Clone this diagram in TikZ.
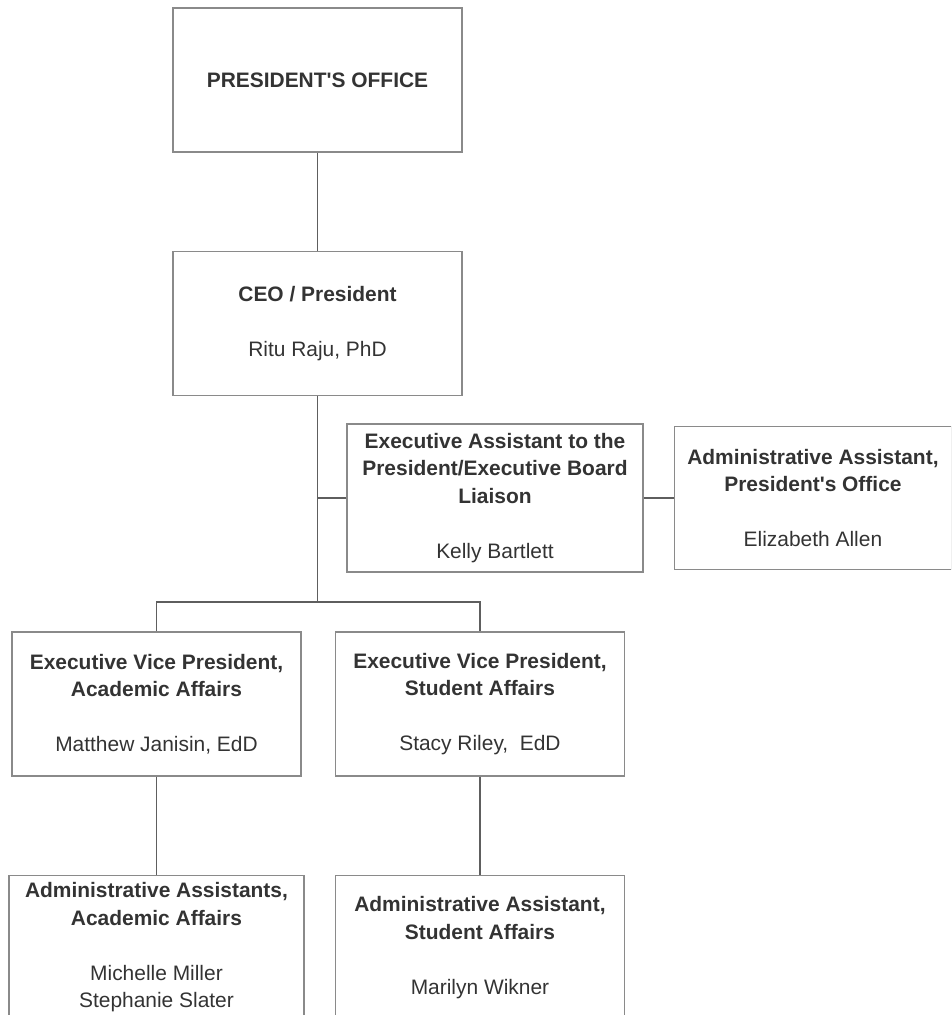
\documentclass[tikz,border=0pt]{standalone}
\usepackage{fontspec}
\setmainfont{Liberation Sans}
\usetikzlibrary{positioning}
\definecolor{txtgray}{HTML}{333333}
\definecolor{boxgray}{HTML}{8A8A8A}
\definecolor{linkgray}{HTML}{5E5E5E}

\begin{document}
\begin{tikzpicture}[
        x=0.75pt, y=-0.75pt,
        node distance=73.5pt and 22.5pt,
        box/.style={rectangle, draw=boxgray, line width=1.1pt, minimum width=216.75pt, minimum height=108pt, align=center, text=txtgray, font=\fontsize{15.7}{20.6}\selectfont},
        link/.style={draw=linkgray, line width=1.3pt}
    ]
        \useasboundingbox (0,0) rectangle (951,1015);
        \clip (0,0) rectangle (951,1015);

        % Top
        \node[box] (office) at (317.5,80) {\textbf{PRESIDENT\textquotesingle S OFFICE}};
        \node[box, below=of office] (ceo) {\textbf{CEO / President}\\[20.6pt]Ritu Raju, PhD};

        % Assistants
        \node[box, minimum width=222pt, minimum height=111pt] (exec) at (495,498) {\textbf{Executive Assistant to the}\\\textbf{President/Executive Board}\\\textbf{Liaison}\\[20.6pt]Kelly Bartlett};
        \node[box, minimum width=207.75pt, minimum height=107.25pt, right=of exec] (admin) {\textbf{Administrative Assistant,}\\\textbf{President\textquotesingle s Office}\\[20.6pt]Elizabeth Allen};

        % Vice presidents
        \node[box] (evpA) at (156.5,704) {\textbf{Executive Vice President,}\\\textbf{Academic Affairs}\\[20.6pt]Matthew Janisin, EdD};
        \node[box, right=24.75pt of evpA] (evpS) {\textbf{Executive Vice President,}\\\textbf{Student Affairs}\\[20.6pt]Stacy Riley,\ \ EdD};

        % Bottom row
        \node[box, minimum width=221.25pt, below=of evpA] (aaA) {\textbf{Administrative Assistants,}\\\textbf{Academic Affairs}\\[20.6pt]Michelle Miller\\Stephanie Slater};
        \node[box, below=of evpS] (aaS) {\textbf{Administrative Assistant,}\\\textbf{Student Affairs}\\[20.6pt]Marilyn Wikner};

        \coordinate (bus) at (317.5,602);

        % Lines
        \draw[link] (office) -- (ceo);
        \draw[link] (ceo) -- (bus);
        \draw[link] (exec.west) -- (exec.west -| bus);
        \draw[link] (exec) -- (admin);
        \draw[link] (evpA.north) |- (bus) -| (evpS.north);
        \draw[link] (evpA) -- (aaA);
        \draw[link] (evpS) -- (aaS);
    \end{tikzpicture}
\end{document}
